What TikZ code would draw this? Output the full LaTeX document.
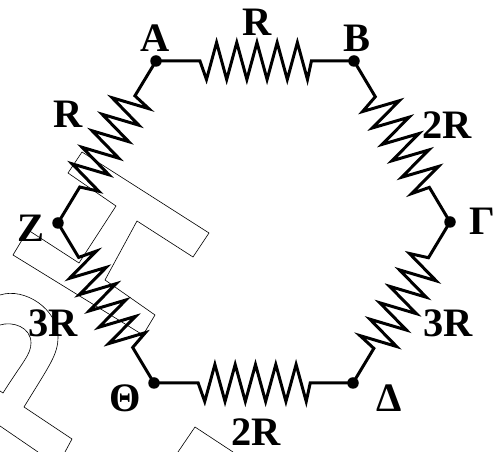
\documentclass[tikz,border=0pt]{standalone}
\usepackage{fontspec}
\setmainfont{Liberation Serif}
\usetikzlibrary{calc}
\tikzset{
	wire/.style={black,line width=1.7pt,line join=miter},
	dot/.style={circle,fill=black,inner sep=0pt,minimum size=0.23cm},
	lbl/.style={inner sep=0pt,font=\fontsize{23}{25}\selectfont\bfseries},
	ghost/.style={black,line width=0.35pt}
}
\newcommand{\resistor}[2]{
	\draw[wire] (#1) -- ($(#1)!.222!(#2)$)
		\foreach \k/\s in {.255/-.37,.306/.37,.357/-.37,.408/.37,.459/-.37,.51/.37,.561/-.37,.612/.37,.663/-.37,.714/.37,.765/-.37} {
			-- ($(#1)!\k!(#2)!\s cm!90:(#2)$)
		}
		-- ($(#1)!.785!(#2)$) -- (#2);
}
\begin{document}
\begin{tikzpicture}
	\useasboundingbox (0,0) rectangle (10.04,9.04);
	% outline letters behind the circuit
	\draw[ghost] (1.64,6.00) -- (1.36,5.58) -- (2.32,4.92) -- (1.58,3.78) -- (.56,4.44) -- (.26,3.94) -- (2.86,2.34) -- (3.10,2.74) -- (2.10,3.44) -- (2.74,4.62) -- (3.86,3.90) -- (4.18,4.38) -- cycle;
	\draw[ghost] (0,3.14) .. controls (.5,3.3) and (1.16,2.85) .. (1.16,2.30) .. controls (1.16,1.95) and (1.0,1.75) .. (.48,.90) -- (1.44,.26) -- (1.30,0);
	\draw[ghost] (0,2.54) .. controls (.25,2.62) and (.62,2.50) .. (.62,2.18) .. controls (.62,1.95) and (.45,1.80) .. (.06,1.18) -- (0,1.22);
	\draw[ghost] (0,.52) -- (.76,0);
	\draw[ghost] (3.56,0) -- (3.90,.50) -- (4.66,0);
	% corners
	\node[dot] (nA) at (3.12,7.82) {};
	\node[dot] (nB) at (7.08,7.82) {};
	\node[dot] (nG) at (9.00,4.60) {};
	\node[dot] (nD) at (7.06,1.38) {};
	\node[dot] (nT) at (3.08,1.38) {};
	\node[dot] (nZ) at (1.16,4.58) {};
	% branches
	\resistor{nA.center}{nB.center}
	\resistor{nZ.center}{nA.center}
	\resistor{nB.center}{nG.center}
	\resistor{nG.center}{nD.center}
	\resistor{nT.center}{nD.center}
	\resistor{nT.center}{nZ.center}
	% names of the corners
	\node[lbl] (labA) at (3.10,8.28) {A};
	\node[lbl] (labB) at (7.14,8.28) {B};
	\node[lbl] (labG) at (9.64,4.62) {Γ};
	\node[lbl] (labD) at (7.78,1.08) {Δ};
	\node[lbl] (labT) at (2.50,1.08) {Θ};
	\node[lbl] (labZ) at (.62,4.48) {Z};
	% values
	\node[lbl] (valAB) at (5.14,8.60) {R};
	\node[lbl] (valBG) at (8.94,6.54) {2R};
	\node[lbl] (valGD) at (8.96,2.58) {3R};
	\node[lbl] (valDT) at (5.12,.40) {2R};
	\node[lbl] (valTZ) at (1.06,2.58) {3R};
	\node[lbl] (valZA) at (1.36,6.76) {R};
\end{tikzpicture}
\end{document}
